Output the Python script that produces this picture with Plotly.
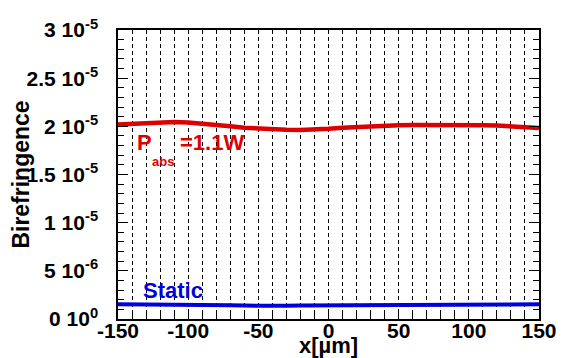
import plotly.graph_objects as go

# ---- data ----
x_um = [-150, -140, -130, -120, -110, -100, -90, -80, -70, -60, -50, -40, -30, -20, -10,
        0, 10, 20, 30, 40, 50, 60, 70, 80, 90, 100, 110, 120, 130, 140, 150]
bire_heated = [2.018e-5, 2.025e-5, 2.035e-5, 2.042e-5, 2.045e-5, 2.040e-5, 2.030e-5, 2.018e-5,
               2.000e-5, 1.985e-5, 1.975e-5, 1.968e-5, 1.965e-5, 1.963e-5, 1.965e-5, 1.975e-5,
               1.985e-5, 1.993e-5, 2.000e-5, 2.005e-5, 2.010e-5, 2.013e-5, 2.015e-5, 2.015e-5,
               2.016e-5, 2.015e-5, 2.012e-5, 2.008e-5, 2.000e-5, 1.990e-5, 1.982e-5]
bire_static = [1.52e-6, 1.52e-6, 1.52e-6, 1.51e-6, 1.50e-6, 1.49e-6, 1.47e-6, 1.45e-6,
               1.42e-6, 1.39e-6, 1.36e-6, 1.35e-6, 1.37e-6, 1.39e-6, 1.40e-6, 1.40e-6,
               1.41e-6, 1.42e-6, 1.42e-6, 1.43e-6, 1.44e-6, 1.47e-6, 1.45e-6, 1.47e-6,
               1.48e-6, 1.47e-6, 1.46e-6, 1.48e-6, 1.48e-6, 1.49e-6, 1.52e-6]
y_tick_vals = [0, 5e-6, 1e-5, 1.5e-5, 2e-5, 2.5e-5, 3e-5]
y_tick_text = ["0 10<sup>0</sup>", "5 10<sup>-6</sup>", "1 10<sup>-5</sup>", "1.5 10<sup>-5</sup>",
               "2 10<sup>-5</sup>", "2.5 10<sup>-5</sup>", "3 10<sup>-5</sup>"]
x_tick_vals = [-150, -100, -50, 0, 50, 100, 150]
x_tick_text = ["-150", "-100", "-50", "0", "50", "100", "150"]

RED = "#dd0000"
BLUE = "#0000dd"
FONT = "Liberation Sans"

fig = go.Figure()
fig.add_trace(go.Scatter(x=x_um, y=bire_heated, mode="lines",
                         line=dict(color=RED, width=4.5), showlegend=False))
fig.add_trace(go.Scatter(x=x_um, y=bire_static, mode="lines",
                         line=dict(color=BLUE, width=4), showlegend=False))

# page body has an 8px margin, so the figure is offset by 8px right and down
fig.update_layout(
    width=561, height=350,
    margin=dict(l=110, r=29.5, t=21.5, b=39, autoexpand=False),
    paper_bgcolor="white", plot_bgcolor="white",
    font=dict(family=FONT, color="black", size=21, weight="bold"),
)

fig.update_xaxes(
    automargin=False,
    range=[-150, 150], tickmode="array", tickvals=x_tick_vals, ticktext=x_tick_text,
    ticks="inside", ticklen=10, tickwidth=1, tickcolor="black",
    showline=True, linecolor="black", linewidth=1.5, mirror=True,
    showgrid=True, gridcolor="black", gridwidth=1, griddash="4px,3px",
    minor=dict(dtick=10, tick0=0, ticks="inside", ticklen=6, tickcolor="black",
               showgrid=True, gridcolor="black", gridwidth=1, griddash="4px,3px"),
    zeroline=False, tickfont=dict(size=21, family=FONT, weight="bold"),
    ticklabelstandoff=-8,
    title=dict(text="x[µm]", font=dict(size=22, family=FONT, weight="bold"), standoff=4),
)
fig.update_yaxes(
    automargin=False,
    range=[0, 3e-5], tickmode="array", tickvals=y_tick_vals, ticktext=y_tick_text,
    ticks="inside", ticklen=10, tickwidth=1, tickcolor="black",
    showline=True, linecolor="black", linewidth=1.5, mirror="ticks",
    showgrid=False,
    minor=dict(dtick=1e-6, tick0=0, ticks="inside", ticklen=6, tickcolor="black", showgrid=False),
    zeroline=False, tickfont=dict(size=21, family=FONT, weight="bold"),
    ticklabelstandoff=14,
    title=dict(text="Birefringence", font=dict(size=23, family=FONT, weight="bold"), standoff=6),
)

big = dict(size=22, family=FONT, color=RED, weight="bold")
fig.add_annotation(x=-138, y=1.83e-5, text="P", showarrow=False, xanchor="left",
                   yanchor="middle", font=big)
fig.add_annotation(x=-127.2, y=1.63e-5, text="abs", showarrow=False, xanchor="left",
                   yanchor="middle", font=dict(size=13, family=FONT, color=RED, weight="bold"))
fig.add_annotation(x=-107.3, y=1.83e-5, text="=1.1W", showarrow=False, xanchor="left",
                   yanchor="middle", font=big)
fig.add_annotation(x=-133.8, y=2.95e-6, text="Static", showarrow=False, xanchor="left",
                   yanchor="middle", font=dict(size=22, family=FONT, color=BLUE, weight="bold"))

fig.write_html("out.html")
